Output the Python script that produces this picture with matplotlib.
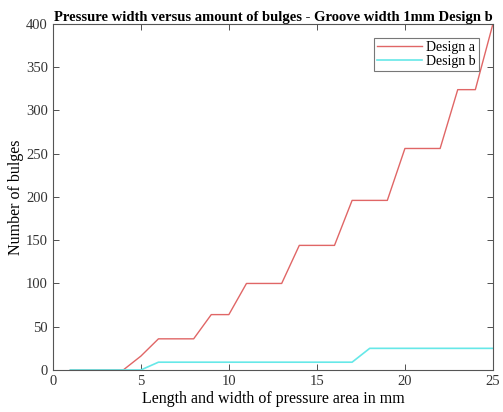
import numpy as np
import matplotlib
matplotlib.use("Agg")
import matplotlib.pyplot as plt

plt.rcParams['font.family'] = ['Liberation Serif', 'DejaVu Serif']

x = np.arange(1, 26)
design_a = [0, 0, 0, 0, 16, 36, 36, 36, 64, 64, 100, 100, 100, 144, 144, 144,
            196, 196, 196, 256, 256, 256, 324, 324, 400]
design_b = [0, 0, 0, 0, 0, 9, 9, 9, 9, 9, 9, 9, 9, 9, 9, 9, 9,
            25, 25, 25, 25, 25, 25, 25, 25]

fig = plt.figure(figsize=(5.03, 4.12), dpi=100)
ax = fig.add_axes([0.105, 0.102, 0.875, 0.840])

ax.plot(x, design_a, color='#e06666', lw=1.0, label='Design a')
ax.plot(x, design_b, color='#66e8e8', lw=1.2, label='Design b')

ax.set_xlim(0, 25)
ax.set_ylim(0, 400)
ax.set_xticks([0, 5, 10, 15, 20, 25])
ax.set_yticks(range(0, 401, 50))
ax.tick_params(direction='in', top=True, right=True, labelsize=10.5,
               colors='#333333', length=4, width=0.6)
for s in ax.spines.values():
    s.set_color('#555555')
    s.set_linewidth(0.8)

ax.set_title('Pressure width versus amount of bulges - Groove width 1mm Design b',
             fontsize=10.5, fontweight='bold', pad=2)
ax.set_xlabel('Length and width of pressure area in mm', fontsize=11.5, labelpad=2)
ax.set_ylabel('Number of bulges', fontsize=11.5)
ax.yaxis.set_label_coords(-0.065, 0.5)

leg = ax.legend(loc='upper right', fontsize=10, fancybox=False, framealpha=1,
                edgecolor='#777777', handlelength=3.2, handletextpad=0.3,
                borderpad=0.25, labelspacing=0.05, borderaxespad=1.0)
leg.get_frame().set_linewidth(0.8)

fig.savefig('out.png', dpi=100)
